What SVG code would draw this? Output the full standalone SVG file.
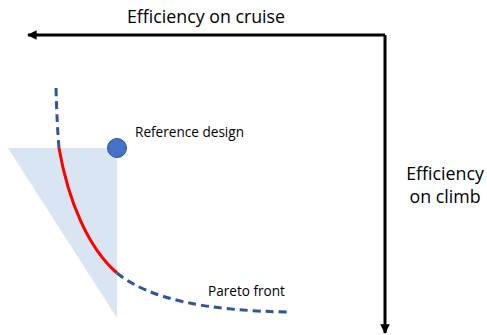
<svg xmlns="http://www.w3.org/2000/svg" width="487" height="335" viewBox="0 0 487 335">
<style>
text{font-family:"Open Sans","Liberation Sans",sans-serif;fill:#000}
.axis{fill:none;stroke:#000;stroke-width:3}
.dash{fill:none;stroke:#2f5597;stroke-width:3;stroke-dasharray:8 5}
.red{fill:none;stroke:#ff0000;stroke-width:3}
</style>
<defs>
<marker id="ah" viewBox="0 0 10 10" refX="9" refY="5" markerWidth="3.2" markerHeight="3.2" orient="auto" markerUnits="strokeWidth">
<path d="M0,0 L10,5 L0,10 z" fill="#000"/>
</marker>
</defs>
<g id="region">
<polygon points="8,148 117,148 117,318" fill="#dae5f3"/>
</g>
<g id="connectors">
<path class="axis" d="M385,35 L28,35" marker-end="url(#ah)"/>
<path class="axis" d="M385,35 L385,333" marker-end="url(#ah)"/>
<path class="dash" d="M56,88 Q57,125 59,148"/>
<path class="red" d="M59,148 C68,200 88,248 117,273"/>
<path class="dash" d="M117,273 C150,300 210,311 290,312"/>
</g>
<g id="reference">
<circle cx="117" cy="148" r="9.5" fill="#4472c4" stroke="#2f528f" stroke-width="1"/>
<text x="135" y="137" font-size="13.6">Reference design</text>
</g>
<g id="labels">
<text x="206" y="23" font-size="17.8" text-anchor="middle">Efficiency on cruise</text>
<text x="445" y="180" font-size="17.8" text-anchor="middle">Efficiency</text>
<text x="445" y="203" font-size="17.8" text-anchor="middle">on climb</text>
<text x="208" y="296" font-size="13.6">Pareto front</text>
</g>
</svg>
